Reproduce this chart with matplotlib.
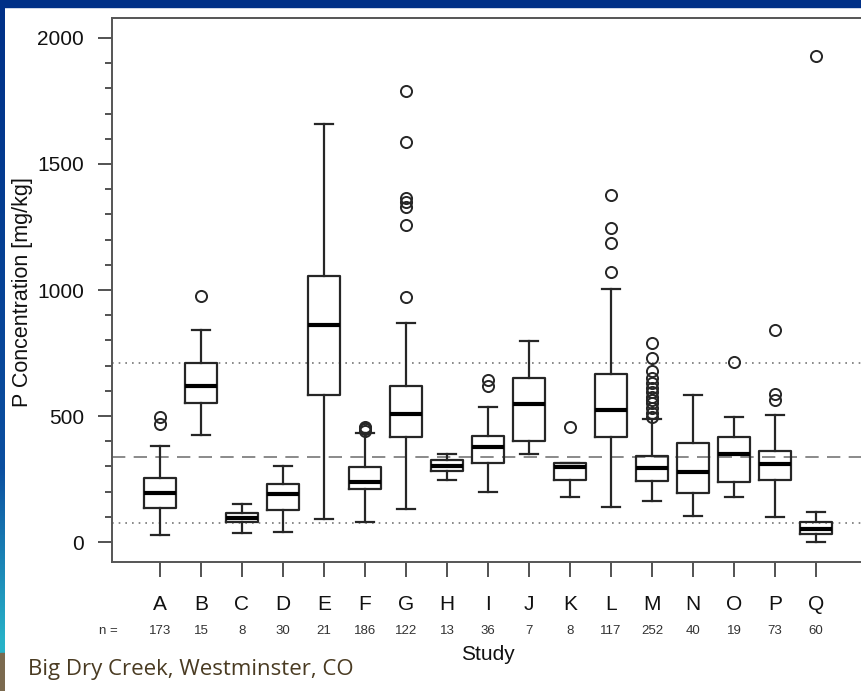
import numpy as np
import matplotlib.pyplot as plt
from matplotlib.patches import Rectangle
from matplotlib.colors import LinearSegmentedColormap
from matplotlib.transforms import blended_transform_factory

# Box statistics (P concentration, mg/kg)
studies = list("ABCDEFGHIJKLMNOPQ")
n_obs = [173, 15, 8, 30, 21, 186, 122, 13, 36, 7, 8, 117, 252, 40, 19, 73, 60]
q1 = [134, 550, 81, 127, 582, 209, 418, 281, 312, 401, 245, 418, 242, 196, 237, 246, 34]
med = [196, 620, 97, 189, 861, 239, 507, 303, 377, 546, 296, 524, 294, 279, 349, 311, 53]
q3 = [253, 709, 114, 230, 1056, 299, 619, 325, 422, 649, 315, 665, 343, 392, 417, 360, 79]
whislo = [28, 423, 38, 41, 91, 78, 130, 246, 197, 350, 177, 140, 161, 103, 177, 98, 1]
whishi = [381, 841, 153, 303, 1659, 431, 870, 349, 534, 798, 315, 1002, 490, 583, 495, 504, 120]
outliers = [
    [468, 497],
    [976],
    [],
    [],
    [],
    [442, 448, 453, 458],
    [973, 1258, 1328, 1350, 1364, 1589, 1791],
    [],
    [619, 643],
    [],
    [455],
    [1070, 1185, 1247, 1377],
    [497, 512, 530, 550, 563, 577, 595, 610, 630, 650, 679, 731, 788],
    [],
    [716],
    [563, 586, 841],
    [1929],
]
ref_lines = {"upper": 709, "middle": 338, "lower": 74}

plt.rcParams["font.family"] = ["Liberation Sans", "DejaVu Sans"]
ink = "#262626"

fig = plt.figure(figsize=(8.62, 6.91), dpi=100)
fig.patch.set_facecolor("white")

# slide decorations: top bar, left strip with gradient, brown foot
fig.patches.append(Rectangle((0, 1 - 7 / 691), 1, 7 / 691, transform=fig.transFigure,
                             color="#003087", zorder=0))
grad = np.linspace(0, 1, 256).reshape(-1, 1)
lax = fig.add_axes([0, 0, 5 / 862, 1])
lax.axis("off")
cmap = LinearSegmentedColormap.from_list(
    "strip", [(0, "#003087"), (0.68, "#0b4fa0"), (0.93, "#28b2c8"), (1, "#28b2c8")])
lax.imshow(grad, aspect="auto", cmap=cmap, extent=[0, 1, 1, 0])
lax.set_ylim(1, 0)
lax.add_patch(Rectangle((0, 653 / 691), 1, 1, color="#7b6a4f"))

ax = fig.add_axes([112 / 862, 1 - 562 / 691, 752 / 862, 544 / 691])

stats = []
for i in range(len(studies)):
    stats.append(dict(label=studies[i], q1=q1[i], med=med[i], q3=q3[i],
                      whislo=whislo[i], whishi=whishi[i], fliers=outliers[i]))

pos = np.arange(1, len(studies) + 1)
ax.bxp(stats, positions=pos, widths=0.8, capwidths=0.42, showfliers=True,
       boxprops=dict(color=ink, linewidth=1.6),
       medianprops=dict(color="black", linewidth=3.0),
       whiskerprops=dict(color=ink, linewidth=1.6),
       capprops=dict(color=ink, linewidth=1.6),
       flierprops=dict(marker="o", markersize=8, markerfacecolor="none",
                       markeredgecolor=ink, markeredgewidth=1.4))

ax.axhline(ref_lines["upper"], color="#777777", linestyle=(0, (1, 3)), linewidth=1.2, zorder=0)
ax.axhline(ref_lines["middle"], color="#777777", linestyle=(0, (8, 5)), linewidth=1.2, zorder=0)
ax.axhline(ref_lines["lower"], color="#777777", linestyle=(0, (1, 3)), linewidth=1.2, zorder=0)

ax.set_xlim(-0.17, 18.17)
ax.set_ylim(-79, 2079)
ax.set_yticks([0, 500, 1000, 1500, 2000])
ax.set_yticks(np.arange(0, 2001, 100), minor=True)
ax.set_xticks(pos)
ax.set_xticklabels(studies)
ax.tick_params(axis="y", which="major", length=10, width=1.3, color="#444444",
               labelsize=15, pad=10, labelcolor="#111111")
ax.tick_params(axis="y", which="minor", length=5, width=1.3, color="#444444")
ax.tick_params(axis="x", length=11, width=1.3, color="#444444", labelsize=15,
               pad=13, labelcolor="#111111")
for s in ax.spines.values():
    s.set_color("#555555")
    s.set_linewidth(1.4)

ax.set_ylabel("P Concentration [mg/kg]", fontsize=15.5, color="#111111")
ax.yaxis.set_label_coords(-79 / 752, (562 - 292) / 544)

tr = blended_transform_factory(ax.transData, fig.transFigure)
y_n = 1 - 631 / 691
for p, n in zip(pos, n_obs):
    ax.text(p, y_n, str(n), transform=tr, ha="center", va="center",
            fontsize=9.5, color="#333333")
fig.text(118 / 862, y_n, "n =", ha="right", va="center", fontsize=9.5, color="#333333")
fig.text(488 / 862, 1 - 655 / 691, "Study", ha="center", va="center",
         fontsize=15, color="#111111")

fig.text(28 / 862, 1 - 670 / 691, "Big Dry Creek, Westminster, CO", ha="left",
         va="center", fontsize=16, color="#4a3b22", family=["Open Sans", "DejaVu Sans"])

fig.savefig("out.png", dpi=100)
